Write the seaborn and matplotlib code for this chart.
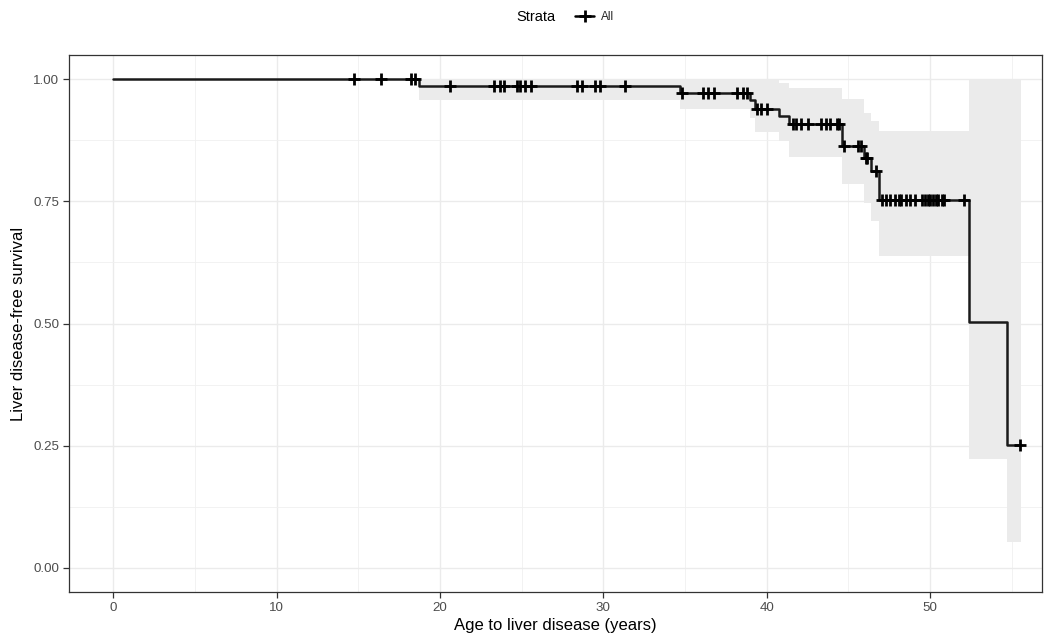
import numpy as np
import matplotlib
matplotlib.use("Agg")
import matplotlib.pyplot as plt
from matplotlib.lines import Line2D
import seaborn as sns
import pandas as pd

# ---- data ----
step_times = [0.0, 18.7, 34.7, 39.0, 39.3, 40.75, 41.35, 44.6, 45.95, 46.4, 46.85, 52.4, 54.7]
surv =       [1.0, 0.986, 0.973, 0.957, 0.940, 0.926, 0.909, 0.863, 0.840, 0.812, 0.754, 0.503, 0.252]
upper =      [1.0, 1.0, 1.0, 1.0, 1.0, 0.993, 0.983, 0.959, 0.932, 0.915, 0.894, 1.0, 1.0]
lower =      [1.0, 0.957, 0.940, 0.920, 0.893, 0.874, 0.842, 0.785, 0.747, 0.710, 0.638, 0.223, 0.052]
end_time = 55.55

censor_times = [14.75, 16.4, 18.25, 18.5, 20.6, 23.3, 23.65, 23.95, 24.7, 24.9, 25.2, 25.55,
                28.4, 28.7, 29.5, 29.8, 31.35, 34.8, 36.1, 36.4, 36.8, 38.2, 38.55, 38.8,
                39.4, 39.65, 40.0, 41.6, 41.8, 42.1, 42.5, 43.3, 43.6, 43.9, 44.3, 44.45,
                44.75, 45.6, 45.8, 46.05, 46.15, 46.7, 47.05, 47.3, 47.55, 47.85, 48.1, 48.25,
                48.5, 48.8, 49.05, 49.5, 49.7, 49.85, 50.0, 50.2, 50.35, 50.5, 50.7, 50.85,
                52.1, 55.5]

x_ticks = [0, 10, 20, 30, 40, 50]
y_ticks = [0.00, 0.25, 0.50, 0.75, 1.00]
y_tick_labels = ["0.00", "0.25", "0.50", "0.75", "1.00"]

# ---- build frames ----
t_line = step_times + [end_time]
s_line = surv + [surv[-1]]
df_line = pd.DataFrame({"time": t_line, "surv": s_line})
idx = np.searchsorted(step_times, censor_times, side="right") - 1
df_cens = pd.DataFrame({"time": censor_times, "surv": np.array(surv)[idx]})

sns.set_theme(style="white")
plt.rcParams["font.family"] = ["Liberation Sans", "DejaVu Sans"]

fig = plt.figure(figsize=(10.46, 6.41), dpi=100)
ax = fig.add_axes([69/1046, 1-592/641, (1042-69)/1046, (592-55)/641])

# confidence band
ax.fill_between(t_line, lower + [lower[-1]], upper + [upper[-1]], step="post",
                color="#EBEBEB", linewidth=0, zorder=1)

sns.lineplot(data=df_line, x="time", y="surv", drawstyle="steps-post", color="#1a1a1a",
             linewidth=1.8, estimator=None, sort=False, ax=ax, zorder=3)
sns.scatterplot(data=df_cens, x="time", y="surv", marker="+", s=70, linewidth=2.0,
                color="black", ax=ax, zorder=4)

ax.set_xlim(-2.7, 56.85)
ax.set_ylim(-0.05, 1.05)
ax.set_xticks(x_ticks)
ax.set_xticks([5, 15, 25, 35, 45, 55], minor=True)
ax.set_yticks(y_ticks)
ax.set_yticklabels(y_tick_labels)
ax.set_yticks([0.125, 0.375, 0.625, 0.875], minor=True)
ax.grid(True, which="major", color="#EBEBEB", linewidth=1.0, zorder=0)
ax.grid(True, which="minor", color="#F0F0F0", linewidth=0.6, zorder=0)
ax.set_axisbelow(True)
for sp in ax.spines.values():
    sp.set_color("#333333")
    sp.set_linewidth(0.9)
ax.tick_params(axis="both", which="major", length=4, width=0.9, color="#333333",
               labelcolor="#4D4D4D", labelsize=9.6, pad=3, bottom=True, left=True)
ax.tick_params(axis="both", which="minor", length=0, bottom=False, left=False)
ax.set_xlabel("Age to liver disease (years)", fontsize=12, color="black", labelpad=3)
ax.set_ylabel("Liver disease-free survival", fontsize=12, color="black", labelpad=5)

# legend
fig.text(536/1046, 1-17/641, "Strata", fontsize=10.5, ha="center", va="center", color="black")
h = Line2D([], [], color="black", linewidth=1.8, marker="+", markersize=8, markeredgewidth=2.0)
fig.legend(handles=[h], labels=["All"], loc="center", bbox_to_anchor=(595/1046, 1-17/641),
           frameon=False, fontsize=8.5, handlelength=1.6, handletextpad=0.6,
           borderpad=0, borderaxespad=0)

fig.savefig("out.png", dpi=100)
